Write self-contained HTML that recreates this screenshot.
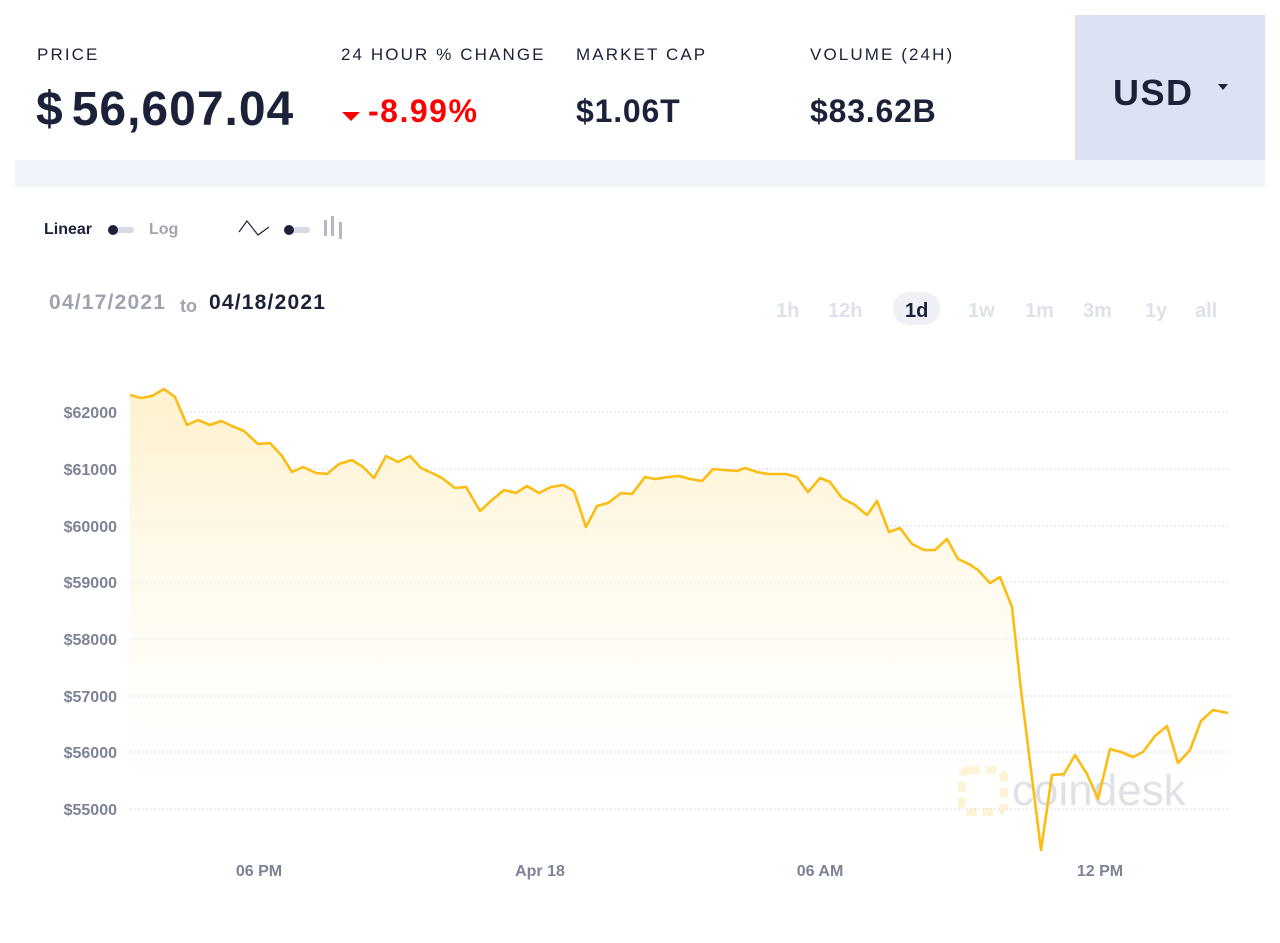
<!DOCTYPE html>
<html><head><meta charset="utf-8"><style>
body{margin:0;width:1280px;height:943px;background:#fff;font-family:"Liberation Sans",sans-serif;position:relative;overflow:hidden;color:#1a2138}
.a{position:absolute;white-space:nowrap}
.lab{font-size:17px;letter-spacing:2.1px;top:45px;color:#1a2138}
.val{font-size:32px;font-weight:bold;top:93px;letter-spacing:0.8px}
.tf{font-size:20px;font-weight:bold;color:#dde1ea;top:300px}
</style></head><body>
<div class="a" style="left:15px;top:160px;width:1250px;height:27px;background:#f0f3f9"></div>
<div class="a" style="left:1075px;top:15px;width:190px;height:145px;background:#dce1f3"></div>
<div class="a" style="left:1113px;top:72px;font-size:36px;font-weight:bold;letter-spacing:1.5px">USD</div>
<div class="a" style="left:1218px;top:84px;width:0;height:0;border-left:5px solid transparent;border-right:5px solid transparent;border-top:6px solid #1a2138"></div>
<div class="a lab" style="left:37px">PRICE</div>
<div class="a lab" style="left:341px">24 HOUR % CHANGE</div>
<div class="a lab" style="left:576px">MARKET CAP</div>
<div class="a lab" style="left:810px">VOLUME (24H)</div>
<div class="a" style="left:36px;top:82px;font-size:48px;font-weight:bold;letter-spacing:1px">$<span style="margin-left:8px">56,607.04</span></div>
<div class="a" style="left:342px;top:112px;width:0;height:0;border-left:9px solid transparent;border-right:9px solid transparent;border-top:9px solid #f00"></div>
<div class="a val" style="left:368px;color:#f00;letter-spacing:1.5px">-8.99%</div>
<div class="a val" style="left:576px">$1.06T</div>
<div class="a val" style="left:810px">$83.62B</div>

<div class="a" style="left:44px;top:221px;font-size:16px;font-weight:bold">Linear</div>
<div class="a" style="left:110px;top:227px;width:24px;height:6px;border-radius:3px;background:#d8dbe2"></div>
<div class="a" style="left:108px;top:225px;width:10px;height:10px;border-radius:5px;background:#1a2138"></div>
<div class="a" style="left:149px;top:221px;font-size:16px;font-weight:bold;color:#a0a4af">Log</div>
<svg class="a" style="left:238px;top:218px" width="32" height="20"><polyline points="1,14 9,3 20,17 31,9" fill="none" stroke="#1a2138" stroke-width="1.2"/></svg>
<div class="a" style="left:286px;top:227px;width:24px;height:6px;border-radius:3px;background:#d8dbe2"></div>
<div class="a" style="left:284px;top:225px;width:10px;height:10px;border-radius:5px;background:#1a2138"></div>
<div class="a" style="left:324px;top:220px;width:3px;height:16px;background:#b5b8c1"></div>
<div class="a" style="left:331px;top:216px;width:3px;height:20px;background:#b5b8c1"></div>
<div class="a" style="left:339px;top:222px;width:3px;height:17px;background:#b5b8c1"></div>

<div class="a" style="left:49px;top:291px;font-size:21px;font-weight:bold;color:#a0a4af;letter-spacing:1.2px">04/17/2021</div>
<div class="a" style="left:180px;top:296px;font-size:18px;font-weight:bold;color:#a0a4af">to</div>
<div class="a" style="left:209px;top:291px;font-size:21px;font-weight:bold;letter-spacing:1.2px">04/18/2021</div>
<div class="a tf" style="left:776px">1h</div>
<div class="a tf" style="left:828px">12h</div>
<div class="a" style="left:893px;top:292px;width:47px;height:33px;border-radius:16px;background:#eef0f5"></div>
<div class="a tf" style="left:905px;color:#1a2138">1d</div>
<div class="a tf" style="left:968px">1w</div>
<div class="a tf" style="left:1025px">1m</div>
<div class="a tf" style="left:1083px">3m</div>
<div class="a tf" style="left:1145px">1y</div>
<div class="a tf" style="left:1195px">all</div>

<svg class="a" style="left:0;top:0" width="1280" height="943">
<defs><linearGradient id="g" x1="0" y1="0" x2="0" y2="1"><stop offset="0" stop-color="#fff1cc"/><stop offset="1" stop-color="#fff" stop-opacity="0"/></linearGradient></defs>
<g stroke="#d6daf0" stroke-dasharray="2,2" stroke-width="1">
<line x1="130" x2="1228" y1="412" y2="412"/><line x1="130" x2="1228" y1="469" y2="469"/><line x1="130" x2="1228" y1="526" y2="526"/><line x1="130" x2="1228" y1="582" y2="582"/><line x1="130" x2="1228" y1="639" y2="639"/><line x1="130" x2="1228" y1="696" y2="696"/><line x1="130" x2="1228" y1="752" y2="752"/><line x1="130" x2="1228" y1="809" y2="809"/>
</g>
<g font-size="16" font-weight="bold" fill="#7d8396" text-anchor="end" font-family="Liberation Sans,sans-serif">
<text x="117" y="418">$62000</text><text x="117" y="475">$61000</text><text x="117" y="532">$60000</text><text x="117" y="588">$59000</text><text x="117" y="645">$58000</text><text x="117" y="702">$57000</text><text x="117" y="758">$56000</text><text x="117" y="815">$55000</text>
</g>
<g font-size="16" font-weight="bold" fill="#7d8396" text-anchor="middle" font-family="Liberation Sans,sans-serif">
<text x="259" y="876">06 PM</text><text x="540" y="876">Apr 18</text><text x="820" y="876">06 AM</text><text x="1100" y="876">12 PM</text>
</g>
<g opacity="0.5">
<rect x="962" y="770" width="42" height="42" rx="8" fill="none" stroke="#fde9a6" stroke-width="8" stroke-dasharray="10,6"/>
<text x="1012" y="805" font-size="44" fill="#b7bcc8" font-family="Liberation Sans,sans-serif">coindesk</text>
</g>
<polygon fill="url(#g)" points="130,395 141,398 152,396 164,389 175,397 187,425 198,420 210,425 221,421 232,426 244,431 258,444 270,443 282,456 292,472 303,467 316,473 327,474 339,464 352,460 363,467 374,478 386,456 398,462 410,456 421,468 432,473 442,478 455,488 466,487 480,511 492,500 504,490 516,493 527,486 539,493 551,487 563,485 574,491 586,527 597,506 608,503 621,493 632,494 645,477 655,479 668,477 679,476 690,479 702,481 713,469 724,470 737,471 745,468 757,472 768,474 777,474 786,474 797,477 808,492 820,478 830,482 842,498 855,505 867,515 877,501 889,532 900,528 912,544 924,550 935,550 947,539 958,559 969,564 978,570 990,583 1000,577 1012,607 1021,690 1031,770 1041,850 1052,775 1064,774 1075,755 1087,774 1098,799 1110,749 1121,752 1133,757 1143,752 1155,736 1167,726 1178,763 1190,750 1201,721 1213,710 1228,713 1228,850 130,850"/>
<polyline fill="none" stroke="#fbbd13" stroke-width="2.6" stroke-linejoin="round" points="130,395 141,398 152,396 164,389 175,397 187,425 198,420 210,425 221,421 232,426 244,431 258,444 270,443 282,456 292,472 303,467 316,473 327,474 339,464 352,460 363,467 374,478 386,456 398,462 410,456 421,468 432,473 442,478 455,488 466,487 480,511 492,500 504,490 516,493 527,486 539,493 551,487 563,485 574,491 586,527 597,506 608,503 621,493 632,494 645,477 655,479 668,477 679,476 690,479 702,481 713,469 724,470 737,471 745,468 757,472 768,474 777,474 786,474 797,477 808,492 820,478 830,482 842,498 855,505 867,515 877,501 889,532 900,528 912,544 924,550 935,550 947,539 958,559 969,564 978,570 990,583 1000,577 1012,607 1021,690 1031,770 1041,850 1052,775 1064,774 1075,755 1087,774 1098,799 1110,749 1121,752 1133,757 1143,752 1155,736 1167,726 1178,763 1190,750 1201,721 1213,710 1228,713"/>
</svg>
</body></html>
